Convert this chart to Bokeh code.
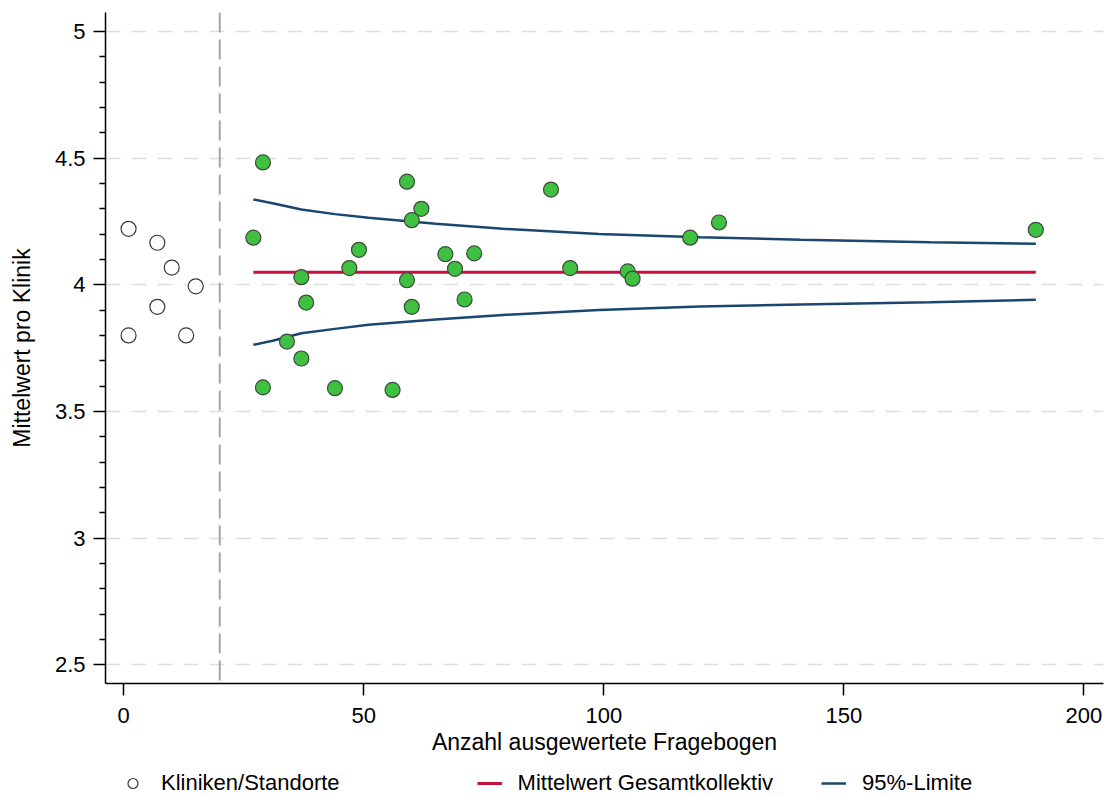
from bokeh.plotting import figure
from bokeh.models import Range1d, FixedTicker, Span, Legend, LegendItem
from bokeh.layouts import column
from bokeh.embed import file_html
from bokeh.resources import INLINE

# ---- data ----
min_n = 20  # threshold for evaluated questionnaires (vertical dashed line)

small_n = [1, 7, 10, 15, 7, 1, 13]
small_mean = [4.221, 4.166, 4.068, 3.994, 3.913, 3.800, 3.800]

clinic_n = [29, 27, 59, 62, 60, 49, 47, 67, 73, 69, 37, 59, 38, 60, 71,
            34, 37, 29, 44, 56, 89, 93, 105, 106, 118, 124, 190]
clinic_mean = [4.483, 4.186, 4.407, 4.300, 4.255, 4.138, 4.066, 4.121, 4.124,
               4.063, 4.030, 4.018, 3.930, 3.913, 3.942, 3.776, 3.709, 3.595,
               3.592, 3.585, 4.376, 4.066, 4.053, 4.024, 4.186, 4.246, 4.217]

mean_n = [27, 190]
mean_val = [4.05, 4.05]

limit_n = [27, 31, 37, 44, 51, 65, 79, 99, 120, 141, 168, 190]
upper_limit = [4.337, 4.322, 4.297, 4.279, 4.265, 4.241, 4.221, 4.201, 4.188, 4.178, 4.168, 4.162]
lower_limit = [3.763, 3.779, 3.809, 3.826, 3.842, 3.863, 3.881, 3.901, 3.914, 3.922, 3.931, 3.941]

x_ticks = [0, 50, 100, 150, 200]
y_ticks = [2.5, 3, 3.5, 4, 4.5, 5]
y_tick_labels = ["2.5", "3", "3.5", "4", "4.5", "5"]
y_minor = [2.6, 2.7, 2.8, 2.9, 3.1, 3.2, 3.3, 3.4, 3.6, 3.7, 3.8, 3.9,
           4.1, 4.2, 4.3, 4.4, 4.6, 4.7, 4.8, 4.9]

x_title = "Anzahl ausgewertete Fragebogen"
y_title = "Mittelwert pro Klinik"
legend_labels = ["Kliniken/Standorte", "", "Mittelwert Gesamtkollektiv", "95%-Limite"]

FONT = "Liberation Sans"
GREEN, GREEN_EDGE = "#40c040", "#3d4a3d"
HOLLOW_EDGE = "#3a3a3a"
RED, BLUE = "#c8103c", "#1a476f"

MAIN_H, LEG_H = 761, 35

p = figure(width=1105, height=MAIN_H,
           x_range=Range1d(-3.8, 204.1), y_range=Range1d(2.426, 5.075),
           output_backend="svg", toolbar_location=None,
           min_border_left=105, min_border_right=2, min_border_top=12, min_border_bottom=78,
           x_axis_label=x_title, y_axis_label=y_title)
p.outline_line_color = None
p.background_fill_color = "white"
p.border_fill_color = "white"

for ax in (p.xaxis[0], p.yaxis[0]):
    ax.axis_line_color = "black"
    ax.axis_line_width = 1.5
    ax.major_tick_line_color = "black"
    ax.major_tick_line_width = 1.5
    ax.minor_tick_line_color = "black"
    ax.minor_tick_line_width = 1.5
    ax.major_tick_out = 12
    ax.major_tick_in = 0
    ax.minor_tick_in = 0
    ax.major_label_text_font = FONT
    ax.major_label_text_font_size = "22px"
    ax.major_label_text_color = "black"
    ax.axis_label_text_font = FONT
    ax.axis_label_text_font_size = "23px"
    ax.axis_label_text_font_style = "normal"
    ax.axis_label_text_color = "black"

p.xaxis.ticker = FixedTicker(ticks=x_ticks)
p.xaxis.minor_tick_out = 0
p.xaxis.major_label_standoff = 12
p.xaxis.axis_label_standoff = 3

p.yaxis.ticker = FixedTicker(ticks=y_ticks, minor_ticks=y_minor)
p.yaxis.major_label_overrides = dict(zip(y_ticks, y_tick_labels))
p.yaxis.minor_tick_out = 6
p.yaxis.major_label_standoff = 8
p.yaxis.axis_label_standoff = 17

p.xgrid.visible = False
p.ygrid.grid_line_color = "#dedede"
p.ygrid.grid_line_width = 1.5
p.ygrid.grid_line_dash = "15 11"

p.add_layout(Span(location=min_n, dimension="height", line_color="#a5a5a5",
                  line_width=2, line_dash="20 7"))

p.line(limit_n, upper_limit, line_color=BLUE, line_width=2.5)
p.line(limit_n, lower_limit, line_color=BLUE, line_width=2.5)
p.line(mean_n, mean_val, line_color=RED, line_width=3)
p.scatter(small_n, small_mean, size=15, fill_color="white",
          line_color=HOLLOW_EDGE, line_width=1.2)
p.scatter(clinic_n, clinic_mean, size=15, fill_color=GREEN,
          line_color=GREEN_EDGE, line_width=1.2)

# ---- legend strip below the chart (its own series lie outside its view) ----
lf = figure(width=1105, height=LEG_H, x_range=Range1d(-1000, -999), y_range=Range1d(-1000, -999),
            output_backend="svg", toolbar_location=None,
            x_axis_location=None, y_axis_location=None,
            min_border_left=0, min_border_right=0, min_border_top=0, min_border_bottom=0)
lf.grid.visible = False
lf.outline_line_color = None
lf.background_fill_color = "white"
lf.border_fill_color = "white"

k_small = lf.scatter(small_n, small_mean, fill_color="white", line_color=HOLLOW_EDGE, line_width=1.2)
k_blank = lf.scatter(clinic_n, clinic_mean, fill_alpha=0, line_alpha=0)
k_mean = lf.line(mean_n, mean_val, line_color=RED, line_width=3)
k_lim = lf.line(limit_n, upper_limit, line_color=BLUE, line_width=2.5)

legend = Legend(items=[
    LegendItem(label=legend_labels[0], renderers=[k_small]),
    LegendItem(label=legend_labels[1], renderers=[k_blank]),
    LegendItem(label=legend_labels[2], renderers=[k_mean]),
    LegendItem(label=legend_labels[3], renderers=[k_lim]),
], location=(11, -3.5), orientation="horizontal",
    glyph_width=25, glyph_height=26, label_standoff=16, spacing=48,
    padding=4, margin=0, border_line_alpha=0, background_fill_alpha=0,
    label_text_font=FONT, label_text_font_size="22px", label_text_color="black",
    label_height=20, label_width=0)
lf.add_layout(legend)

layout = column(p, lf, spacing=0)
open("out.html", "w").write(file_html(layout, INLINE))
